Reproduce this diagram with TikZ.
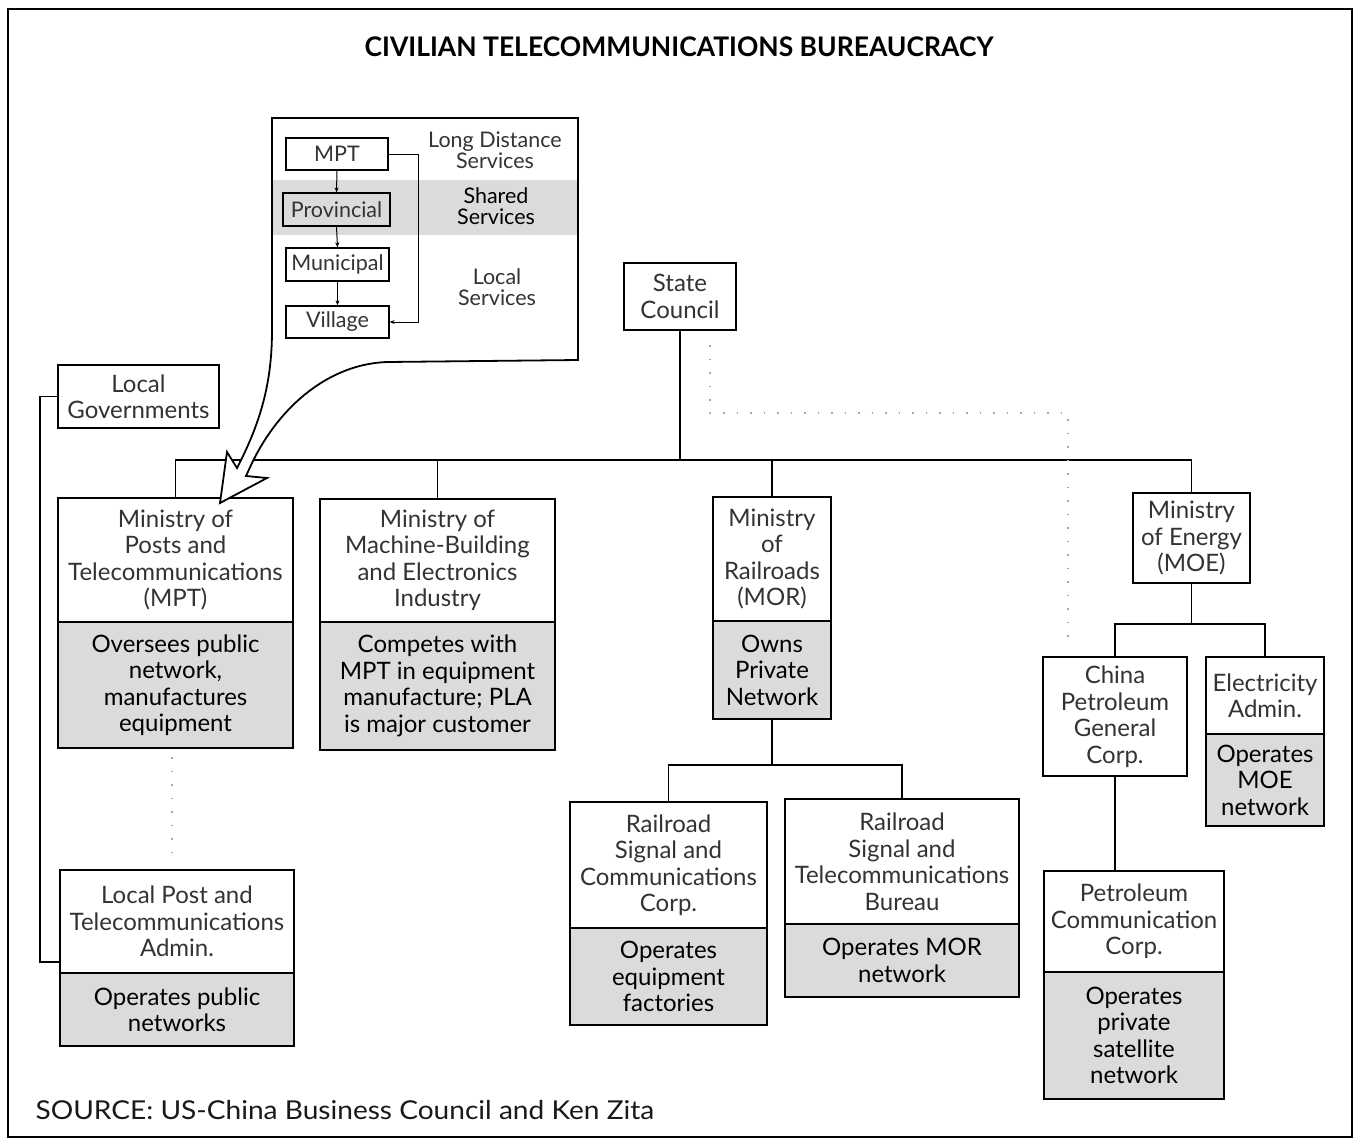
\documentclass[tikz,border=0pt]{standalone}
\usepackage{fontspec}
\setmainfont{Lato}
\newfontfamily\titlefont{Lato}[FakeStretch=0.98]
\newfontfamily\srcfont{Lato}[FakeStretch=1.08]
\usetikzlibrary{arrows.meta}
\begin{document}
\begin{tikzpicture}[x=1pt,y=-1pt,
  wbox/.style={draw, line width=1.8pt, inner sep=0pt, align=center, text=black!80,
    font=\fontsize{24}{26.5}\selectfont},
  gbox/.style={wbox, fill=black!14, text=black},
  sz/.style 2 args={minimum width=#1pt, minimum height=#2pt},
  ibox/.style={draw, line width=1.3pt, inner sep=0pt, text=black!80,
    font=\fontsize{21.5}{21}\selectfont},
  ilabel/.style={align=center, text=black!80, font=\fontsize{21.5}{21}\selectfont},
  conn/.style={line width=1.8pt},
  dots/.style={black!35, line width=1.2pt, dash pattern=on 1.5pt off 12pt},
  iarrow/.style={line width=1pt, -{Stealth[length=5pt,width=4pt]}}]
\useasboundingbox (0,0) rectangle (1356,1141);
\fill[white] (0,0) rectangle (1356,1141);
\draw[line width=1.6pt] (8,9) rectangle (1352,1137);

\node[font=\titlefont\bfseries\fontsize{27}{30}\selectfont] (title) at (679,47) {CIVILIAN TELECOMMUNICATIONS BUREAUCRACY};
\node[anchor=west, font=\srcfont\fontsize{26}{28}\selectfont, text=black!90] (src) at (32,1110) {SOURCE: US-China Business Council and Ken Zita};

% main boxes
\node[wbox, sz={112}{67}] (sc) at (680,296.5) {State\\Council};
\node[wbox, sz={161}{63}] (lg) at (138.5,396.5) {Local\\Governments};

\node[wbox, sz={235}{124}] (mptT) at (175.5,560) {Ministry of\\Posts and\\Telecommunications\\(MPT)};
\node[gbox, sz={235}{126}] (mptB) at (175.5,685) {Oversees public\\network,\\manufactures\\equipment};

\node[wbox, sz={235}{123}] (machT) at (437.5,560.5) {Ministry of\\Machine-Building\\and Electronics\\Industry};
\node[gbox, sz={235}{128}] (machB) at (437.5,686) {Competes with\\MPT in equipment\\manufacture; PLA\\is major customer};

\node[wbox, sz={118}{124}] (morT) at (772,559) {Ministry\\of\\Railroads\\(MOR)};
\node[gbox, sz={118}{98}] (morB) at (772,670) {Owns\\Private\\Network};

\node[wbox, sz={197}{126}] (rscT) at (668.5,865) {Railroad\\Signal and\\Communications\\Corp.};
\node[gbox, sz={197}{97}] (rscB) at (668.5,976.5) {Operates\\equipment\\factories};

\node[wbox, sz={234}{125}] (rstT) at (902,861.5) {Railroad\\Signal and\\Telecommunications\\Bureau};
\node[gbox, sz={234}{73}] (rstB) at (902,960.5) {Operates MOR\\network};

\node[wbox, sz={117}{90}] (moe) at (1191.5,538) {Ministry\\of Energy\\(MOE)};
\node[wbox, sz={144}{119}] (cpg) at (1115,716.5) {China\\Petroleum\\General\\Corp.};
\node[wbox, sz={118}{77}] (eaT) at (1265,695.5) {Electricity\\Admin.};
\node[gbox, sz={118}{92}] (eaB) at (1265,780) {Operates\\MOE\\network};

\node[wbox, sz={180}{101}] (pccT) at (1134,921.5) {Petroleum\\Communication\\Corp.};
\node[gbox, sz={180}{127}] (pccB) at (1134,1035.5) {Operates\\private\\satellite\\network};

\node[wbox, sz={234}{103}] (lpT) at (177,921.5) {Local Post and\\Telecommunications\\Admin.};
\node[gbox, sz={234}{73}] (lpB) at (177,1009.5) {Operates public\\networks};

% connectors
\coordinate (bus) at (680,460);
\draw[conn] (sc.south) -- (bus);
\draw[conn] (mptT.north) |- (bus) -| (moe.north);
\draw[conn] (machT.north) -- (machT.north |- bus);
\draw[conn] (morT.north) -- (morT.north |- bus);

\coordinate (morbus) at (772,765);
\draw[conn] (morB.south) -- (morbus);
\draw[conn] (rscT.north) |- (morbus) -| (rstT.north);

\coordinate (moebus) at (1191.5,624);
\draw[conn] (moe.south) -- (moebus);
\draw[conn] (cpg.north) |- (moebus) -| (eaT.north);
\draw[conn] (cpg.south) -- (cpg.south |- pccT.north);

\coordinate (lgc) at (40,962);
\draw[conn] (lg.west) -| (lgc) -- (lgc -| lpT.west);

% dotted lines
\coordinate (d1) at (710,345);
\coordinate (d2) at (710,413);
\coordinate (d3) at (1068,413);
\coordinate (d4) at (1068,640);
\draw[dots] (d1) -- (d2) -- (d3) -- (d4);
\coordinate (d5) at (172,757);
\coordinate (d6) at (172,865);
\draw[dots] (d5) -- (d6);

% callout
\path[fill=white] (272,118) -- (578,118) -- (578,360) -- (387,362)
  .. controls (330,364) and (280,405) .. (252,463) -- (246,476) -- (267,478)
  -- (220,503) -- (227,452) -- (237,468)
  .. controls (262,420) and (272,380) .. (272,330) -- cycle;
\fill[black!14] (273,180) rectangle (577,235);
\draw[line width=1.8pt, line join=miter] (272,118) -- (578,118) -- (578,360) -- (387,362)
  .. controls (330,364) and (280,405) .. (252,463) -- (246,476) -- (267,478)
  -- (220,503) -- (227,452) -- (237,468)
  .. controls (262,420) and (272,380) .. (272,330) -- cycle;

\node[ibox, minimum width=102pt, minimum height=32pt] (impt) at (337,154) {MPT};
\node[ibox, minimum width=107pt, minimum height=33pt] (iprov) at (336.5,209.5) {Provincial};
\node[ibox, minimum width=103pt, minimum height=33pt] (imun) at (337.5,264.5) {Municipal};
\node[ibox, minimum width=103pt, minimum height=32pt] (ivil) at (337.5,322) {Village};
\draw[iarrow] (impt.south) -- (iprov.north);
\draw[iarrow] (iprov.south) -- (imun.north);
\draw[iarrow] (imun.south) -- (ivil.north);
\draw[iarrow] (impt.east) -- ++(30,0) |- (ivil.east);

\node[ilabel] (ild) at (495,150) {Long Distance\\Services};
\node[ilabel, text=black] (ish) at (496,206) {Shared\\Services};
\node[ilabel] (ilc) at (497,287) {Local\\Services};
\end{tikzpicture}
\end{document}
